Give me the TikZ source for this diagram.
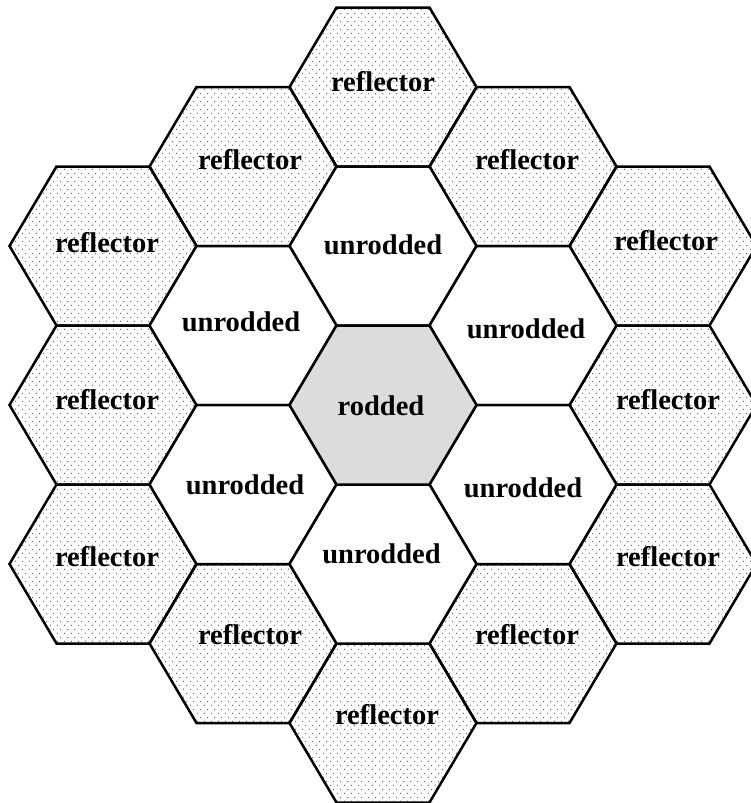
\documentclass[tikz,border=0pt]{standalone}
\usepackage{fontspec}
\setmainfont{Liberation Serif}
\usetikzlibrary{patterns}
\definecolor{rodgray}{RGB}{220,220,220}
\pgfdeclarepatternformonly{refldots}{\pgfqpoint{0pt}{0pt}}{\pgfqpoint{7pt}{8pt}}{\pgfqpoint{7pt}{8pt}}{%
  \pgfpathcircle{\pgfqpoint{1.75pt}{2pt}}{0.75pt}%
  \pgfpathcircle{\pgfqpoint{5.25pt}{6pt}}{0.75pt}%
  \pgfusepath{fill}}
\newcommand\hexcell[3]{%
  \draw[#1] ({#2-93.5},{#3}) -- ({#2-46.5},{#3-79.5}) -- ({#2+46.5},{#3-79.5})
    -- ({#2+93.5},{#3}) -- ({#2+46.5},{#3+79.5}) -- ({#2-46.5},{#3+79.5}) -- cycle;}
\begin{document}
\begin{tikzpicture}[x=1pt,y=-1pt,
  hexline/.style={line width=2.5pt, line join=miter, draw=black},
  refl/.style={hexline, pattern=refldots, pattern color=black!65},
  unrod/.style={hexline, fill=white},
  rod/.style={hexline, fill=rodgray},
  lbl/.style={font=\fontsize{28.5}{30}\selectfont\bfseries, inner sep=0pt}]
\useasboundingbox (0,0) rectangle (751,803);
\clip (0,0) rectangle (751,803);
% reflector cells
\foreach \cx/\cy in {383/87, 243/166.5, 523/166.5, 103/246, 663/246, 103/405, 663/405,
  103/564, 663/564, 243/643.5, 523/643.5, 383/723}{\hexcell{refl}{\cx}{\cy}}
% unrodded cells
\foreach \cx/\cy in {383/246, 243/325.5, 523/325.5, 243/484.5, 523/484.5, 383/564}{\hexcell{unrod}{\cx}{\cy}}
% rodded cell
\hexcell{rod}{383}{405}
% labels
\node[lbl] (r1) at (383,82) {reflector};
\node[lbl] (r2) at (250,160) {reflector};
\node[lbl] (r3) at (527,160) {reflector};
\node[lbl] (r4) at (107,243) {reflector};
\node[lbl] (r5) at (666,241) {reflector};
\node[lbl] (r6) at (107,400) {reflector};
\node[lbl] (r7) at (668,400) {reflector};
\node[lbl] (r8) at (107,557) {reflector};
\node[lbl] (r9) at (668,557) {reflector};
\node[lbl] (r10) at (250,635) {reflector};
\node[lbl] (r11) at (527,635) {reflector};
\node[lbl] (r12) at (387,715) {reflector};
\node[lbl] (u1) at (383,245) {unrodded};
\node[lbl] (u2) at (241,322) {unrodded};
\node[lbl] (u3) at (526,328.5) {unrodded};
\node[lbl] (u4) at (245,485) {unrodded};
\node[lbl] (u5) at (523,488) {unrodded};
\node[lbl] (u6) at (381.5,554) {unrodded};
\node[lbl] (rod) at (381,406) {rodded};
\end{tikzpicture}
\end{document}
